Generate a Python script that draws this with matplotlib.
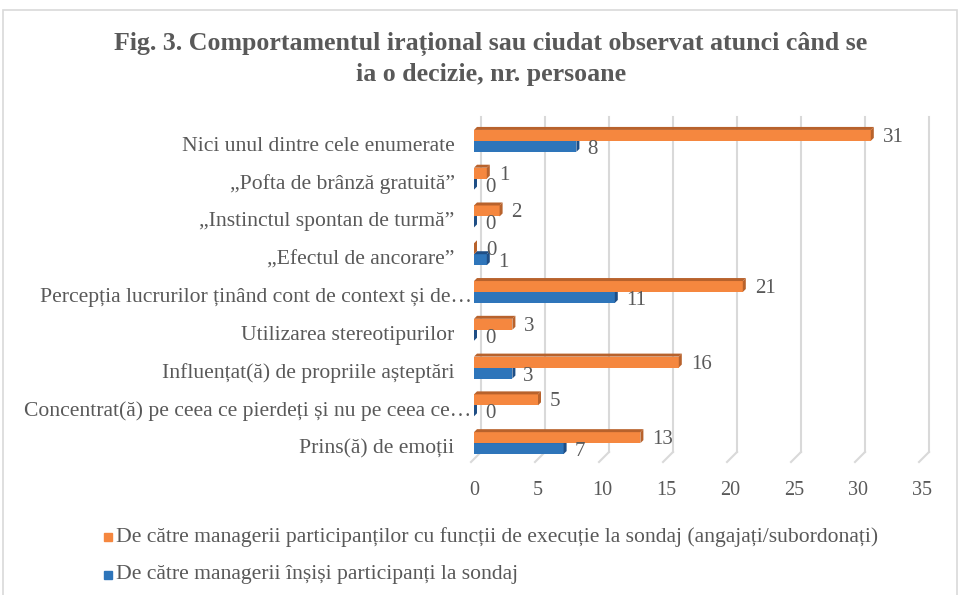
import matplotlib
matplotlib.use("Agg")
import matplotlib.pyplot as plt
import matplotlib.transforms as mtransforms
from matplotlib.patches import Polygon, Rectangle
import numpy as np

categories = [
    "Nici unul dintre cele enumerate",
    "\u201ePofta de brânză gratuită\u201d",
    "\u201eInstinctul spontan de turmă\u201d",
    "\u201eEfectul de ancorare\u201d",
    "Percepția lucrurilor ținând cont de context și de…",
    "Utilizarea stereotipurilor",
    "Influențat(ă) de propriile așteptări",
    "Concentrat(ă) pe ceea ce pierdeți și nu pe ceea ce…",
    "Prins(ă) de emoții",
]
subordinates = [31, 1, 2, 0, 21, 3, 16, 5, 13]
managers = [8, 0, 0, 1, 11, 0, 3, 0, 7]

series_names = [
    "De către managerii participanților cu funcții de execuție la sondaj (angajați/subordonați)",
    "De către managerii înșiși participanți la sondaj",
]
xticks = [0, 5, 10, 15, 20, 25, 30, 35]

text_gray = "#595959"
grid_gray = "#D9D9D9"
orange_front, orange_dark = "#F5873F", "#B8622C"
blue_front, blue_dark = "#2E75BA", "#1F4E85"

plt.rcParams["font.family"] = ["Liberation Serif", "DejaVu Serif"]

W, H = 960, 595
fig = plt.figure(figsize=(W / 100, H / 100), dpi=100)

# plot area in pixels (front plane)
x0, x1 = 474, 922
y_top, y_bot = 122, 462
ax = fig.add_axes([x0 / W, (H - y_bot) / H, (x1 - x0) / W, (y_bot - y_top) / H])
n = len(categories)
ax.set_xlim(0, 35)
ax.set_ylim(-0.5, n - 0.5)
for s in ax.spines.values():
    s.set_visible(False)

ux = 35 / (x1 - x0)
uy = n / (y_bot - y_top)

# chart frame
fig.patches.append(Rectangle((3 / W, -0.1), 954 / W, 1.1 - 10 / H, transform=fig.transFigure,
                             fill=False, edgecolor=grid_gray, linewidth=1.2))

# back-plane gridlines with slanted floor edge
gdx, gdy = 7 * ux, 10 * uy
for t in xticks:
    ax.plot([t + gdx, t + gdx], [-0.5 + gdy, n - 0.5 + 5 * uy], color=grid_gray, lw=1.5,
            clip_on=False, zorder=0)
    ax.plot([t - 3 * ux, t + gdx], [-0.5, -0.5 + gdy], color=grid_gray, lw=1.5,
            clip_on=False, zorder=0)

ypos = np.arange(n)[::-1]
h = 0.29
bdx, bdy = 3 * ux, 3 * uy


def bar3d(vals, centers, front, dark, z):
    ax.barh(centers, vals, height=h, color=front, zorder=z)
    for v, c in zip(vals, centers):
        top, bot = c + h / 2, c - h / 2
        ax.add_patch(Polygon([(0, top), (v, top), (v + bdx, top + bdy), (bdx, top + bdy)],
                             closed=True, facecolor=dark, edgecolor="none", zorder=z, clip_on=False))
        ax.add_patch(Polygon([(v, bot), (v, top), (v + bdx, top + bdy), (v + bdx, bot + bdy)],
                             closed=True, facecolor=dark, edgecolor="none", zorder=z, clip_on=False))


bar3d(managers, ypos - h / 2, blue_front, blue_dark, 2)
bar3d(subordinates, ypos + h / 2, orange_front, orange_dark, 3)

for v, c in zip(subordinates, ypos + h / 2):
    ax.annotate(str(v), (v, c), xytext=(12, -2), textcoords="offset pixels",
                ha="left", va="center", fontsize=15, color=text_gray)
for v, c in zip(managers, ypos - h / 2):
    ax.annotate(str(v), (v, c), xytext=(11, -3), textcoords="offset pixels",
                ha="left", va="center", fontsize=15, color=text_gray)

ax.set_xticks(xticks)
ax.set_xticklabels([str(t) for t in xticks], fontsize=14.5, color=text_gray)
ax.set_yticks(ypos)
ax.set_yticklabels(categories, fontsize=15.6, color=text_gray)
ax.tick_params(axis="x", length=0, pad=14)
ax.tick_params(axis="y", length=0, pad=14)
# truncated labels run a little further right, up to the bars
for lab in ax.get_yticklabels():
    dx = 17 / 100 if lab.get_text().endswith("…") else 0
    lab.set_transform(lab.get_transform() + mtransforms.ScaledTranslation(dx, -3 / 100, fig.dpi_scale_trans))

fig.text(491 / W, 1 - 44 / H, "Fig. 3. Comportamentul irațional sau ciudat observat atunci când se",
         ha="center", va="center", fontsize=18.6, fontweight="bold", color=text_gray)
fig.text(491 / W, 1 - 74 / H, "ia o decizie, nr. persoane",
         ha="center", va="center", fontsize=18.6, fontweight="bold", color=text_gray)

# legend
for i, (name, col) in enumerate(zip(series_names, [orange_front, blue_front])):
    yc = 537 + 38 * i
    fig.patches.append(Rectangle((104 / W, 1 - (yc + 4) / H), 8 / W, 8 / H,
                                 transform=fig.transFigure, color=col))
    fig.text(116 / W, 1 - yc / H, name, ha="left", va="center", fontsize=15.6, color=text_gray)

fig.savefig("out.png", dpi=100)
